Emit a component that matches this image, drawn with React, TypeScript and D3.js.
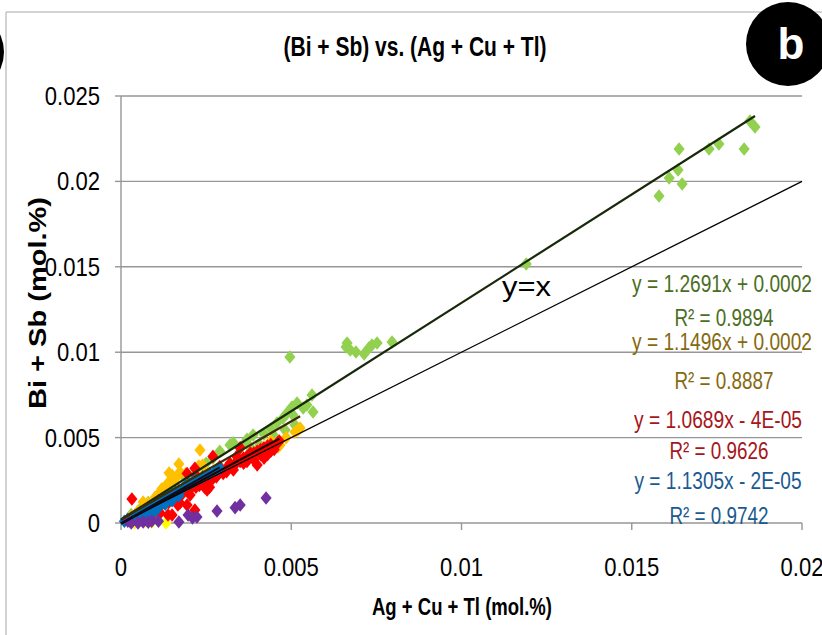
import React from "react";
import * as d3 from "d3";

// ---------- data (mol.%) ----------
const greenX = [0.0158, 0.0161, 0.01636, 0.01648, 0.01639, 0.01727, 0.01756, 0.0183, 0.01847, 0.01862, 0.0119,
  0.00496, 0.00664, 0.00661, 0.00673, 0.0069, 0.00714, 0.00728, 0.00737, 0.00752, 0.00796,
  0.00561, 0.00564, 0.00502, 0.00535, 0.00546, 0.00517, 0.00488, 0.00476, 0.00505, 0.00458,
  0.0032, 0.00364, 0.00408, 0.00452, 0.00482, 0.00511, 0.00379, 0.00349, 0.00388, 0.0029, 0.0027, 0.0033, 0.0037, 0.0042, 0.0044,
  0.0012, 0.00109, 0.00135, 0.0003, 0.0006, 0.0008, 0.0016, 0.0019, 0.0022, 0.0025];
const greenY = [0.01915, 0.0202, 0.02067, 0.01985, 0.0219, 0.0219, 0.02219, 0.0219, 0.02354, 0.02319, 0.01516,
  0.00972, 0.01054, 0.0103, 0.01013, 0.01001, 0.00989, 0.01025, 0.01042, 0.01054, 0.0106,
  0.00749, 0.0065, 0.00679, 0.00673, 0.00691, 0.00703, 0.00644, 0.00615, 0.00632, 0.00586,
  0.00457, 0.00468, 0.00457, 0.00504, 0.00545, 0.00574, 0.00445, 0.00439, 0.00515, 0.0042, 0.0038, 0.0047, 0.0049, 0.0052, 0.0055,
  0.00164, 0.00146, 0.00211, 0.0005, 0.0009, 0.0012, 0.0022, 0.0026, 0.0031, 0.0035];

const orangeX = [0.00232, 0.00229, 0.0017, 0.00173, 0.00141, 0.00153, 0.00138, 0.00129, 0.00079, 0.00065, 0.00164, 0.00138, 0.00226,
  0.0052, 0.00467, 0.00526, 0.00511, 0.001, 0.0012, 0.0015, 0.0019, 0.002, 0.0008, 0.0005, 0.0003, 0.00485, 0.0044, 0.0025, 0.0011, 0.0016, 0.0004, 0.00461, 0.0024];
const orangeY = [0.00427, 0.00334, 0.00345, 0.00299, 0.00293, 0.0024, 0.00234, 0.00182, 0.00117, 0.00123, 0.00269, 0.00222, 0.00328,
  0.00545, 0.00457, 0.00556, 0.00533, 0.0015, 0.002, 0.0028, 0.0029, 0.0026, 0.0009, 0.0007, 0.0004, 0.005, 0.0048, 0.003, 0.0017, 0.0022, 0.0003, 0.00445, 0.0034];

const yellowX = [0.00132, 0.0007, 0.0004, 0.0009];
const yellowY = [0.0, 0.0001, 0.0, 0.00005];

const redX = [0.0002, 0.0004, 0.0006, 0.0008, 0.001, 0.0011, 0.0012, 0.0013, 0.0014, 0.0015, 0.0016, 0.0017, 0.0018, 0.0019, 0.002, 0.0021, 0.0022, 0.0023, 0.0024, 0.0025,
  0.0026, 0.0027, 0.0028, 0.0029, 0.003, 0.0031, 0.0032, 0.0033, 0.0034, 0.0035, 0.0036, 0.0037, 0.0038, 0.0039, 0.004, 0.0041, 0.0042, 0.0043, 0.0044, 0.0046, 0.00465,
  0.00032, 0.0027, 0.00194, 0.00217, 0.00167, 0.00138, 0.00194, 0.00217, 0.00203, 0.00253, 0.00115, 0.0015, 0.00173, 0.00247, 0.0029, 0.0031, 0.0028, 0.0025, 0.0037,
  0.004, 0.0043, 0.0035, 0.0034, 0.0042, 0.0045, 0.0026, 0.0022, 0.0009, 0.0007, 0.0003,
  0.0023, 0.0027, 0.0033, 0.0036, 0.0039, 0.0041, 0.0044, 0.0030, 0.0032, 0.0038];
const redY = [0.0002, 0.0004, 0.0005, 0.0007, 0.001, 0.0013, 0.0011, 0.0014, 0.0012, 0.0016, 0.0015, 0.0018, 0.0017, 0.0021, 0.0019, 0.0023, 0.0021, 0.0025, 0.0024, 0.0026,
  0.0027, 0.0028, 0.0029, 0.0031, 0.003, 0.0032, 0.0034, 0.0033, 0.0036, 0.0036, 0.0038, 0.0039, 0.004, 0.0041, 0.0042, 0.0043, 0.0044, 0.0045, 0.0046, 0.0047, 0.0048,
  0.0014, 0.0039, 0.0029, 0.0032, 0.00105, 0.00047, 0.00105, 0.00076, 0.00164, 0.00193, 0.00059, 0.00047, 0.00117, 0.00205, 0.0033, 0.003, 0.0027, 0.0025, 0.0036,
  0.0034, 0.004, 0.0044, 0.0039, 0.0038, 0.0043, 0.0021, 0.0028, 0.0004, 0.0002, 0.0001,
  0.0022, 0.0026, 0.0031, 0.0035, 0.0037, 0.0040, 0.0042, 0.0029, 0.0035, 0.0041];

const blueX = [0.0001, 0.0002, 0.0003, 0.0004, 0.0005, 0.0006, 0.0007, 0.0008, 0.0009, 0.001, 0.0011, 0.0012, 0.0013, 0.0014, 0.0015, 0.0016, 0.0017, 0.0018, 0.0019, 0.002,
  0.0021, 0.0022, 0.0024, 0.0026, 0.0028, 0.0029, 0.0005, 0.0007, 0.0009, 0.0011, 0.0013, 0.0015, 0.0017, 0.0008, 0.0003, 0.0006, 0.001];
const blueY = [0.0001, 0.0002, 0.0003, 0.0004, 0.0005, 0.0006, 0.0007, 0.0009, 0.001, 0.0011, 0.0012, 0.0013, 0.0015, 0.0016, 0.0017, 0.0018, 0.0019, 0.002, 0.0022, 0.0023,
  0.0024, 0.0025, 0.0027, 0.0029, 0.0031, 0.0032, 0.0003, 0.0004, 0.0006, 0.0009, 0.0011, 0.0013, 0.0016, 0.0005, 0.0001, 0.0002, 0.0007];

const purpleX = [0.00065, 0.0008, 0.0005, 0.0009, 0.0011, 0.0017, 0.00197, 0.00223, 0.0021, 0.00282, 0.00335, 0.0035, 0.00426, 0.0002, 0.0003];
const purpleY = [0.00006, 0.00005, 0.0, 0.0001, 0.0001, 0.00006, 0.00047, 0.00035, 0.0003, 0.0007, 0.0009, 0.00105, 0.00146, 0.0001, 0.0];

// trendlines: slope, intercept, x-extent
const trendSlopes = [1.2691, 1.1496, 1.0689, 1.1305];
const trendIntercepts = [0.0002, 0.0002, -0.00004, -0.00002];
const trendXMax = [0.01862, 0.00526, 0.00465, 0.0029];
const trendColors = ["#18280a", "#3a2c05", "#1a0505", "#05101c"];

const eqLabels = ["y = 1.2691x + 0.0002", "y = 1.1496x + 0.0002", "y = 1.0689x - 4E-05", "y = 1.1305x - 2E-05"];
const r2Labels = ["R² = 0.9894", "R² = 0.8887", "R² = 0.9626", "R² = 0.9742"];
const eqColors = ["#4b6e24", "#86690f", "#a6161b", "#1b5a90"];

const xTicks = [0, 0.005, 0.01, 0.015, 0.02];
const yTicks = [0, 0.005, 0.01, 0.015, 0.02, 0.025];
const xTickLabels = ["0", "0.005", "0.01", "0.015", "0.02"];
const yTickLabels = ["0", "0.005", "0.01", "0.015", "0.02", "0.025"];

const W = 822, H = 635;
const PL = 121, PR = 802, PT = 96, PB = 523;

const diamondType = {
  draw(ctx: any, size: number) {
    const r = Math.sqrt(size / 2);
    const rx = r * 0.82;
    ctx.moveTo(0, -r);
    ctx.lineTo(rx, 0);
    ctx.lineTo(0, r);
    ctx.lineTo(-rx, 0);
    ctx.closePath();
  },
};

function labelLen(s: string) {
  let w = 0;
  for (const ch of s) w += ch === "." ? 6 : 12.3;
  return w;
}

export default function App() {
  const x = d3.scaleLinear().domain([0, 0.02]).range([PL, PR]);
  const y = d3.scaleLinear().domain([0, 0.025]).range([PB, PT]);
  const sym = d3.symbol().type(diamondType as any).size(92)() as string;

  const series = [
    { xs: greenX, ys: greenY, c: "#92d050" },
    { xs: orangeX, ys: orangeY, c: "#ffc000" },
    { xs: yellowX, ys: yellowY, c: "#ffff00" },
    { xs: redX, ys: redY, c: "#ff0000" },
    { xs: blueX, ys: blueY, c: "#0070c0" },
    { xs: purpleX, ys: purpleY, c: "#7030a0" },
  ];

  const line = d3.line<[number, number]>().x((d) => x(d[0])).y((d) => y(d[1]));
  const font = "'Liberation Sans', Arial, sans-serif";
  const eqCx = [722, 722, 718, 718];
  const eqBase = [292, 350, 428, 489];
  const eqLen = [180, 180, 168, 167];
  const r2Cx = [724, 724, 719, 719];
  const r2Base = [326, 389, 459, 524];

  return (
    <svg width={W} height={H} style={{ position: "absolute", left: 0, top: 0, background: "#fff" }}>
      <rect x={0} y={0} width={W} height={H} fill="#fff" />
      {/* outer frame */}
      <line x1={6} y1={12} x2={W} y2={12} stroke="#c4c4c4" strokeWidth={1.5} />
      <line x1={6} y1={12} x2={6} y2={H} stroke="#c4c4c4" strokeWidth={1.5} />
      {/* neighbour badge edge */}
      <circle cx={-37} cy={52} r={41} fill="#000" />

      {/* gridlines */}
      {yTicks.slice(1).map((t) => (
        <line key={"g" + t} x1={PL} x2={PR} y1={y(t)} y2={y(t)} stroke="#969696" strokeWidth={1.4} />
      ))}
      {/* axes */}
      <line x1={PL} x2={PL} y1={PT} y2={PB} stroke="#969696" strokeWidth={1.4} />
      <line x1={PL} x2={PR} y1={PB} y2={PB} stroke="#969696" strokeWidth={1.4} />
      {yTicks.map((t) => (
        <line key={"yt" + t} x1={PL - 6} x2={PL} y1={y(t)} y2={y(t)} stroke="#969696" strokeWidth={1.4} />
      ))}
      {xTicks.map((t) => (
        <line key={"xt" + t} x1={x(t)} x2={x(t)} y1={PB} y2={PB + 7} stroke="#969696" strokeWidth={1.4} />
      ))}
      {yTicks.map((t, i) => (
        <text key={"yl" + t} x={100} y={y(t) + 9} textAnchor="end" fontFamily={font} fontSize={26}
          textLength={labelLen(yTickLabels[i])} lengthAdjust="spacingAndGlyphs" fill="#000">
          {yTickLabels[i]}
        </text>
      ))}
      {xTicks.map((t, i) => (
        <text key={"xl" + t} x={x(t)} y={576} textAnchor="middle" fontFamily={font} fontSize={26}
          textLength={labelLen(xTickLabels[i])} lengthAdjust="spacingAndGlyphs" fill="#000">
          {xTickLabels[i]}
        </text>
      ))}

      {/* markers */}
      {series.map((s, si) => (
        <g key={"s" + si} fill={s.c}>
          {s.xs.map((v, i) => (
            <path key={i} d={sym} transform={`translate(${x(v)},${y(s.ys[i])})`} />
          ))}
        </g>
      ))}

      {/* y = x */}
      <path d={line([[0, 0], [0.02, 0.02]]) || ""} stroke="#000" strokeWidth={1.3} fill="none" />
      {/* trendlines */}
      {trendSlopes.map((m, i) => (
        <path
          key={"tr" + i}
          d={line([[0, trendIntercepts[i]], [trendXMax[i], m * trendXMax[i] + trendIntercepts[i]]]) || ""}
          stroke={trendColors[i]}
          strokeWidth={2.2}
          fill="none"
        />
      ))}

      <text x={502} y={296} fontFamily={font} fontSize={28} textLength={49} lengthAdjust="spacingAndGlyphs" fill="#000">
        y=x
      </text>

      {eqLabels.map((l, i) => (
        <text key={"eq" + i} x={eqCx[i]} y={eqBase[i]} textAnchor="middle" fontFamily={font} fontSize={24}
          textLength={eqLen[i]} lengthAdjust="spacingAndGlyphs" fill={eqColors[i]}>
          {l}
        </text>
      ))}
      {r2Labels.map((l, i) => (
        <text key={"r2" + i} x={r2Cx[i]} y={r2Base[i]} textAnchor="middle" fontFamily={font} fontSize={24}
          textLength={99} lengthAdjust="spacingAndGlyphs" fill={eqColors[i]}>
          {l}
        </text>
      ))}

      {/* titles */}
      <text x={415} y={56} textAnchor="middle" fontFamily={font} fontWeight="bold" fontSize={28}
        textLength={263} lengthAdjust="spacingAndGlyphs" fill="#000">
        (Bi + Sb) vs. (Ag + Cu + Tl)
      </text>
      <text x={462} y={615} textAnchor="middle" fontFamily={font} fontWeight="bold" fontSize={24}
        textLength={180} lengthAdjust="spacingAndGlyphs" fill="#000">
        Ag + Cu + Tl (mol.%)
      </text>
      <text transform="translate(46,303) rotate(-90)" textAnchor="middle" fontFamily={font} fontWeight="bold" fontSize={23}
        textLength={212} lengthAdjust="spacingAndGlyphs" fill="#000">
        Bi + Sb (mol.%)
      </text>

      {/* badge */}
      <circle cx={788} cy={44} r={42} fill="#000" />
      <text x={791} y={59} textAnchor="middle" fontFamily={font} fontWeight="bold" fontSize={44} fill="#fff">
        b
      </text>
    </svg>
  );
}
